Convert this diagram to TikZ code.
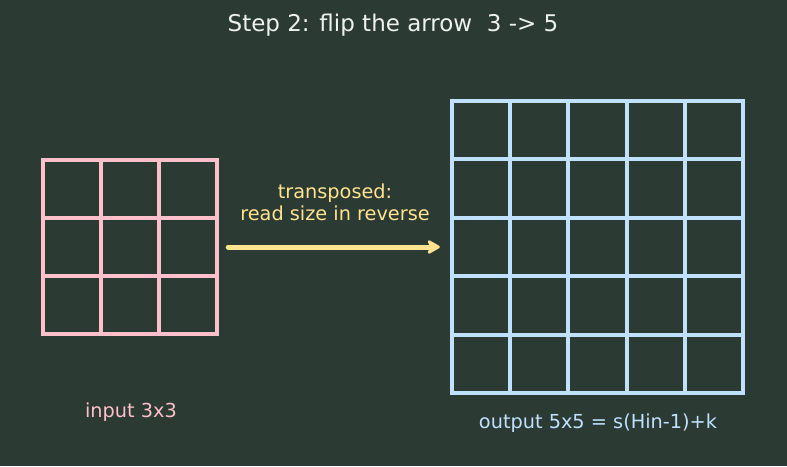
\documentclass[tikz,border=0pt]{standalone}
\usepackage{fontspec}
\setmainfont{DejaVu Sans}
\usetikzlibrary{arrows.meta}
\definecolor{bg}{HTML}{2B3A33}
\definecolor{pinkc}{HTML}{FFC0CB}
\definecolor{bluec}{HTML}{BFE0FF}
\definecolor{yellowc}{HTML}{FFE38E}
\definecolor{titlec}{HTML}{EEF2EE}
\tikzset{
  gridline/.style={line width=4pt, line cap=rect},
  lbl/.style={inner sep=0pt, anchor=center},
}
\begin{document}
\begin{tikzpicture}[x=1pt,y=-1pt]
\fill[bg] (0,0) rectangle (787,466);
\useasboundingbox (0,0) rectangle (787,466);
\node[lbl, text=titlec, font=\fontsize{23}{28}\selectfont] (title) at (393,25) {Step 2: flip the arrow\ \ 3 -> 5};
% input grid
\foreach \i in {0,...,3} {
  \draw[gridline, pinkc] (43+58*\i,160) -- (43+58*\i,334);
  \draw[gridline, pinkc] (43,160+58*\i) -- (217,160+58*\i);
}
\node[inner sep=0pt, minimum width=174pt, minimum height=174pt] (in) at (130,247) {};
% output grid
\foreach \i in {0,...,5} {
  \draw[gridline, bluec] (452+58.2*\i,101) -- (452+58.2*\i,393);
  \draw[gridline, bluec] (452,101+58.4*\i) -- (743,101+58.4*\i);
}
\node[inner sep=0pt, minimum width=291pt, minimum height=292pt] (out) at (597.5,247) {};
% arrow
\draw[line width=5pt, yellowc, line cap=round, -{Stealth[length=15pt,width=17pt,inset=4pt,round]}] ([xshift=11pt]in.east) -- ([xshift=-12pt]out.west);
\node[lbl, text=yellowc, font=\fontsize{19.3}{22}\selectfont, align=center] (note) at (335,202) {transposed:\\read size in reverse};
\node[lbl, text=pinkc, font=\fontsize{19.3}{22}\selectfont] (inlbl) at (131,412) {input 3x3};
\node[lbl, text=bluec, font=\fontsize{19.3}{22}\selectfont] (outlbl) at (598,423) {output 5x5 = s(Hin-1)+k};
\end{tikzpicture}
\end{document}
